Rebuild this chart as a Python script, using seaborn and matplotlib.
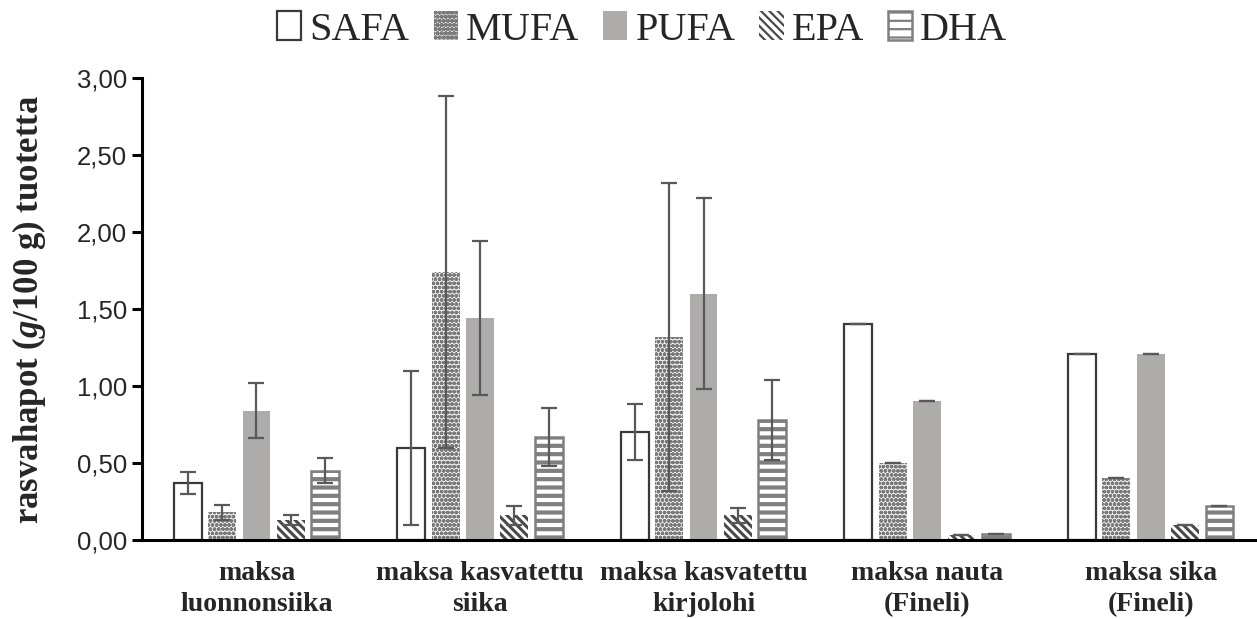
import numpy as np
import pandas as pd
import matplotlib
matplotlib.use("Agg")
import matplotlib.pyplot as plt
from matplotlib.ticker import FuncFormatter, MultipleLocator
import seaborn as sns

# --- data -------------------------------------------------------------
products = [
    "maksa\nluonnonsiika",
    "maksa kasvatettu\nsiika",
    "maksa kasvatettu\nkirjolohi",
    "maksa nauta\n(Fineli)",
    "maksa sika\n(Fineli)",
]
fatty_acids = ["SAFA", "MUFA", "PUFA", "EPA", "DHA"]

safa = [0.37, 0.60, 0.70, 1.40, 1.21]
mufa = [0.18, 1.74, 1.32, 0.50, 0.40]
pufa = [0.84, 1.44, 1.60, 0.90, 1.21]
epa = [0.13, 0.16, 0.16, 0.03, 0.10]
dha = [0.45, 0.67, 0.78, 0.04, 0.22]

safa_sd = [0.07, 0.50, 0.18, 0.0, 0.0]
mufa_sd = [0.05, 1.14, 1.00, 0.0, 0.0]
pufa_sd = [0.18, 0.50, 0.62, 0.0, 0.0]
epa_sd = [0.03, 0.06, 0.05, 0.0, 0.0]
dha_sd = [0.08, 0.19, 0.26, 0.0, 0.0]

means = {"SAFA": safa, "MUFA": mufa, "PUFA": pufa, "EPA": epa, "DHA": dha}
sds = {"SAFA": safa_sd, "MUFA": mufa_sd, "PUFA": pufa_sd, "EPA": epa_sd, "DHA": dha_sd}

df = pd.DataFrame(
    [(p, fa, means[fa][i]) for fa in fatty_acids for i, p in enumerate(products)],
    columns=["tuote", "rasvahappo", "arvo"],
)

# --- style ------------------------------------------------------------
sns.set_theme(style="white")
plt.rcParams["font.family"] = ["Liberation Serif", "DejaVu Serif"]
plt.rcParams["mathtext.fontset"] = "custom"
plt.rcParams["mathtext.it"] = "Liberation Serif:italic:bold"
plt.rcParams["mathtext.rm"] = "Liberation Serif:bold"
plt.rcParams["hatch.linewidth"] = 1.6

bar_styles = {
    "SAFA": dict(facecolor="white", edgecolor="#3a3a3a", hatch=None, linewidth=1.6, hlw=1.0),
    "MUFA": dict(facecolor="#f2f2f2", edgecolor="#7a7a7a", hatch="oooo", linewidth=0.0, hlw=1.3),
    "PUFA": dict(facecolor="#aeabab", edgecolor="#aeabab", hatch=None, linewidth=0.0, hlw=1.0),
    "EPA": dict(facecolor="white", edgecolor="#4a4a4a", hatch="\\\\\\\\", linewidth=0.0, hlw=2.2),
    "DHA": dict(facecolor="white", edgecolor="#7f7f7f", hatch="--", linewidth=1.8, hlw=3.0),
}

fig = plt.figure(figsize=(12.57, 6.19), dpi=100)
ax = fig.add_axes([0.113, 0.1276, 0.887, 0.7464])

sns.barplot(
    data=df, x="tuote", y="arvo", hue="rasvahappo", hue_order=fatty_acids,
    order=products, width=0.77, gap=0.19, errorbar=None, legend=False, ax=ax,
)

handles = []
for fa, cont in zip(fatty_acids, ax.containers):
    st = bar_styles[fa]
    for bar in cont.patches:
        bar.set_facecolor(st["facecolor"])
        bar.set_edgecolor(st["edgecolor"])
        bar.set_linewidth(st["linewidth"])
        if st["hatch"]:
            bar.set_hatch(st["hatch"])
            if hasattr(bar, "set_hatch_linewidth"):
                bar.set_hatch_linewidth(st["hlw"])
    xs = [b.get_x() + b.get_width() / 2 for b in cont.patches]
    ys = [b.get_height() for b in cont.patches]
    ax.errorbar(xs, ys, yerr=sds[fa], fmt="none", ecolor="#595959",
                elinewidth=1.6, capsize=6, capthick=1.6, zorder=5)
    handles.append(cont.patches[0])

ax.set_ylim(0, 3.0)
ax.set_xlim(-0.512, 4.476)
ax.yaxis.set_major_locator(MultipleLocator(0.5))
ax.yaxis.set_major_formatter(FuncFormatter(lambda v, _: f"{v:.2f}".replace(".", ",")))

for side in ("top", "right"):
    ax.spines[side].set_visible(False)
for side in ("left", "bottom"):
    ax.spines[side].set_color("black")
    ax.spines[side].set_linewidth(2.2)

ax.tick_params(axis="y", which="major", left=True, length=7, width=2.2,
               color="black", pad=4, labelsize=18.5)
ax.tick_params(axis="x", bottom=False, pad=9)
for lab in ax.get_yticklabels():
    lab.set_fontfamily(["Liberation Sans", "DejaVu Sans"])
for lab in ax.get_xticklabels():
    lab.set_fontsize(20)
    lab.set_fontweight("bold")
    lab.set_linespacing(1.32)

ax.set_xlabel("")
ax.set_ylabel(r"rasvahapot ($g$/100 g) tuotetta", fontsize=25, fontweight="bold")
ax.yaxis.set_label_coords(-0.084, 0.5)

fig.legend(handles, fatty_acids, loc="upper center", bbox_to_anchor=(0.511, 1.04),
           ncol=5, frameon=False, fontsize=29, handlelength=0.6, handleheight=0.7,
           handletextpad=0.2, columnspacing=0.6)

fig.savefig("out.png", dpi=100)
